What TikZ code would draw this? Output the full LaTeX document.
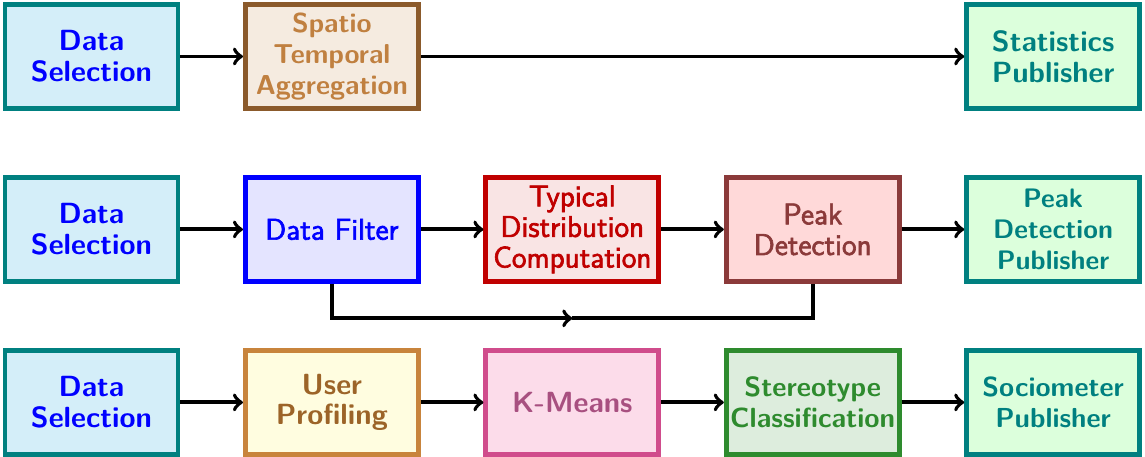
\documentclass[tikz,border=0pt]{standalone}
\usepackage{fontspec}
\usepackage{tikz}
\usetikzlibrary{positioning}
\usepackage{xcolor}

\newfontfamily\midsans{Latin Modern Sans}[FakeBold=2.2]

\definecolor{selfill}{HTML}{D4EEF9}
\definecolor{tealdraw}{HTML}{008080}
\definecolor{spfill}{HTML}{F5EBE0}
\definecolor{spdraw}{HTML}{8B5A2B}
\definecolor{sptext}{HTML}{C08040}
\definecolor{pubfill}{HTML}{DCFFDC}
\definecolor{filtfill}{HTML}{E4E4FF}
\definecolor{typfill}{HTML}{F9E4E4}
\definecolor{typdraw}{HTML}{C00000}
\definecolor{peakfill}{HTML}{FFD9D9}
\definecolor{peakdraw}{HTML}{8B3A3A}
\definecolor{upfill}{HTML}{FFFDE0}
\definecolor{updraw}{HTML}{C8843C}
\definecolor{uptext}{HTML}{9C6428}
\definecolor{kmfill}{HTML}{FCDCEA}
\definecolor{kmdraw}{HTML}{D04C8C}
\definecolor{kmtext}{HTML}{A85080}
\definecolor{stfill}{HTML}{DDEDDD}
\definecolor{stdraw}{HTML}{2E8B2E}

\newcommand{\boxfont}[1]{\sffamily\bfseries\fontsize{#1}{12.6}\selectfont}
\newcommand{\midfont}{\midsans\fontsize{12.3}{12.6}\selectfont}

\begin{document}
\begin{tikzpicture}[
  box/.style = {draw, line width=2pt, minimum width=2.5cm, minimum height=1.5cm,
                align=center, inner sep=1pt, font=\boxfont{12}},
  sel/.style = {box, draw=tealdraw, fill=selfill, text=blue},
  pub/.style = {box, draw=tealdraw, fill=pubfill, text=tealdraw},
  mid/.style = {box, font=\midfont},
  flow/.style = {->, line width=1.6pt},
  node distance=2.5cm and 3.475cm, on grid]
\useasboundingbox (0,0) rectangle (16.55,-6.6);

% statistics
\node[sel] (sel1) at (1.322,-0.816) {Data\\Selection};
\node[box, draw=spdraw, fill=spfill, text=sptext, font=\boxfont{11.25}] (agg) [right=of sel1] {Spatio\\Temporal\\Aggregation};
\node[pub] (stat) [right=3*3.475cm of agg] {Statistics\\Publisher};

% peak detection
\node[sel] (sel2) [below=of sel1] {Data\\Selection};
\node[mid, draw=blue, fill=filtfill, text=blue] (filter) [right=of sel2] {Data Filter};
\node[mid, draw=typdraw, fill=typfill, text=typdraw] (typ) [right=of filter] {Typical\\Distribution\\Computation};
\node[mid, draw=peakdraw, fill=peakfill, text=peakdraw] (peak) [right=of typ] {Peak\\Detection};
\node[pub, font=\boxfont{11}] (peakpub) [right=of peak] {Peak\\Detection\\Publisher};

% sociometer
\node[sel] (sel3) [below=of sel2] {Data\\Selection};
\node[box, draw=updraw, fill=upfill, text=uptext] (prof) [right=of sel3] {User\\Profiling};
\node[box, draw=kmdraw, fill=kmfill, text=kmtext] (km) [right=of prof] {K-Means};
\node[box, draw=stdraw, fill=stfill, text=stdraw, font=\boxfont{11.4}] (stereo) [right=of km] {Stereotype\\Classification};
\node[pub, font=\boxfont{11.3}] (socio) [right=of stereo] {Sociometer\\Publisher};

\draw[flow] (sel1) -- (agg);
\draw[flow] (agg) -- (stat);

\draw[flow] (sel2) -- (filter);
\draw[flow] (filter) -- (typ);
\draw[flow] (typ) -- (peak);
\draw[flow] (peak) -- (peakpub);
\coordinate (bypass) at ([yshift=-0.5cm]typ.south);
\draw[flow] (filter.south) |- (bypass);
\draw[line width=1.6pt] (bypass) -| (peak.south);

\draw[flow] (sel3) -- (prof);
\draw[flow] (prof) -- (km);
\draw[flow] (km) -- (stereo);
\draw[flow] (stereo) -- (socio);
\end{tikzpicture}
\end{document}
